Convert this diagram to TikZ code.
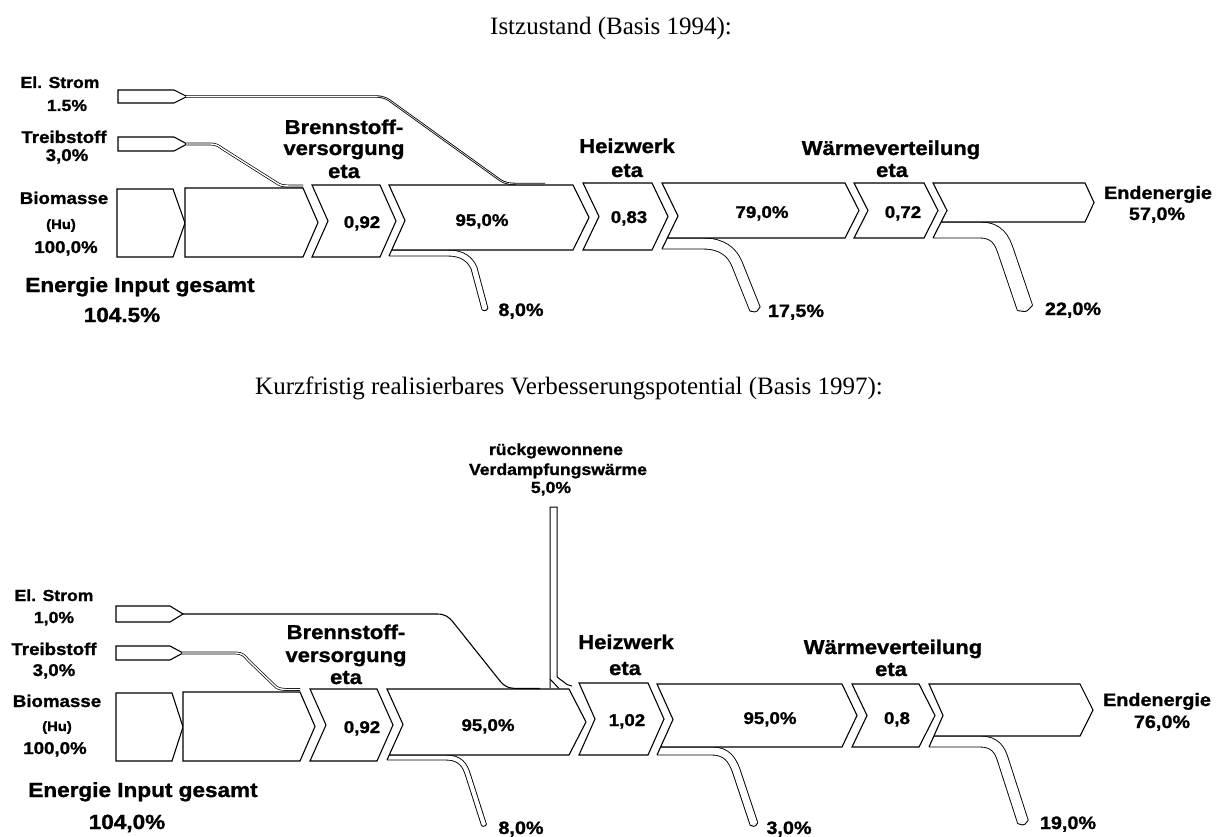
\documentclass[tikz,border=0pt]{standalone}
\usepackage{fontspec}
\setmainfont{Liberation Serif}
\newfontfamily\lab[FakeStretch=1.1, BoldFeatures={FakeBold=1.2}]{Liberation Sans}
\usetikzlibrary{calc}
\tikzset{
  box/.style={draw=black, fill=white, line width=1.1pt, line join=miter},
  flow/.style={draw=black, double=white, double distance=#1},
  tipv/.style={draw=black, fill=white, line width=0.9pt, rounded corners=1.6pt},
  lbl/.style={font=\lab\bfseries\fontsize{17}{19}\selectfont, inner sep=0pt, anchor=base},
  lss/.style={font=\lab\bfseries\fontsize{18}{20}\selectfont, inner sep=0pt, anchor=base},
  sml/.style={font=\lab\bfseries\fontsize{16}{18}\selectfont, inner sep=0pt, anchor=base},
  hu/.style={font=\lab\bfseries\fontsize{13.5}{15}\selectfont, inner sep=0pt, anchor=base},
  hdr/.style={font=\lab\bfseries\fontsize{20}{22}\selectfont, inner sep=0pt, anchor=base},
  big/.style={font=\lab\bfseries\fontsize{20.5}{23}\selectfont, inner sep=0pt, anchor=base},
  ttl/.style={font=\fontsize{25}{28}\selectfont, inner sep=0pt, anchor=base},
}
\begin{document}
\begin{tikzpicture}[x=1pt,y=-1pt]
\useasboundingbox (0,0) rectangle (1221,837);

%%%%%%%%%%%%%%%%%%%%%%%%%%%%%%%% TOP
\node[ttl] (t1) at (611,35) {Istzustand (Basis 1994):};

% loss bands (top)
\begin{scope}
 \clip (389,256) -- (405,220.5) -- (389,185) -- (1221,185) -- (1221,837) -- (389,837) -- cycle;
 \draw[flow=5.1pt, line width=0.9pt] (380,253) -- (448,253) .. controls (462,253) and (470,259) .. (474,268) -- (485,309);
\end{scope}
\draw[tipv] ($(485,309)!3pt!90:(474,268)$) -- ($(485,309)!-2.5pt!(474,268)$) -- ($(485,309)!3pt!-90:(474,268)$);
\begin{scope}
 \clip (662,249) -- (678,216) -- (662,183) -- (1221,183) -- (1221,837) -- (662,837) -- cycle;
 \draw[flow=10.1pt, line width=0.9pt] (655,243.5) -- (703,243.5) .. controls (722,243.5) and (732,252) .. (737,264) -- (755,309);
\end{scope}
\draw[tipv] ($(755,309)!5.5pt!90:(737,264)$) -- ($(755,309)!-3.5pt!(737,264)$) -- ($(755,309)!5.5pt!-90:(737,264)$);
\begin{scope}
 \clip (933,238) -- (947,210.5) -- (933,183) -- (1221,183) -- (1221,837) -- (933,837) -- cycle;
 \draw[flow=15.1pt, line width=0.9pt] (925,230) -- (980,230) .. controls (997,230) and (1002,240) .. (1006,252) -- (1025,308);
\end{scope}
\draw[tipv] ($(1025,308)!8pt!90:(1006,252)$) -- ($(1025,308)!-4pt!(1006,252)$) -- ($(1025,308)!8pt!-90:(1006,252)$);

% boxes (top)
\draw[box] (117,189) -- (173,189) -- (185,223) -- (173,257) -- (117,257) -- cycle;
\draw[box] (185,188) -- (303,188) -- (318,222.5) -- (303,257) -- (185,257) -- cycle;
\draw[box] (312,185) -- (380,185) -- (396,221) -- (380,257) -- (312,257) -- (328,221) -- cycle;
\draw[box] (391.7,250) -- (573,250) -- (589,217.5) -- (573,185) -- (389,185) -- (405,220.5) -- (389,256);
\draw[box] (583,183) -- (652,183) -- (668,216.5) -- (652,250) -- (583,250) -- (599,216.5) -- cycle;
\draw[box] (667.3,238) -- (845,238) -- (859,210.5) -- (845,183) -- (662,183) -- (678,216) -- (662,249);
\draw[box] (854,183) -- (924,183) -- (938,210.5) -- (924,238) -- (854,238) -- (868,210.5) -- cycle;
\draw[box] (941.1,222) -- (1085,222) -- (1094,202.5) -- (1085,183) -- (933,183) -- (947,210.5) -- (933,238);

% inputs (top)
\draw[box] (118,90) -- (174,90) -- (187,96.5) -- (174,103) -- (118,103) -- cycle;
\draw[box] (118,137) -- (174,137) -- (187,144) -- (174,151) -- (118,151) -- cycle;
\draw[flow=0.6pt, line width=0.85pt] (186,96.5) -- (376,96.5) .. controls (384,96.5) and (388,99) .. (393,103) -- (500,180) .. controls (505,183.5) and (510,184) .. (520,184) -- (545,184);
\draw[flow=1.4pt, line width=0.7pt] (186,144) -- (211,144) .. controls (216,144) and (219,146) .. (223,149) -- (276,182.5) .. controls (280,185.5) and (283,186) .. (290,186) -- (303,186);

% texts (top)
\node[sml] (elT) at (60,88) {El. Strom};
\node[sml] (elTp) at (67,111) {1.5\%};
\node[lbl] (trT) at (64,143) {Treibstoff};
\node[lbl] (trTp) at (67,161) {3,0\%};
\node[lbl] (bioT) at (64,204) {Biomasse};
\node[hu] (huT) at (61,229) {(Hu)};
\node[lbl] (bioTp) at (66,253) {100,0\%};
\node[big] (enT) at (140,292) {Energie Input gesamt};
\node[big] (enTp) at (122,322) {104.5\%};
\node[hdr] (bT1) at (344,134) {Brennstoff-};
\node[hdr] (bT2) at (344,155) {versorgung};
\node[hdr] (bT3) at (344,178) {eta};
\node[hdr] (hT1) at (627,153) {Heizwerk};
\node[hdr] (hT2) at (627,177) {eta};
\node[hdr] (wT1) at (891,155) {Wärmeverteilung};
\node[hdr] (wT2) at (892,177) {eta};
\node[lbl] (eT1) at (362,228) {0,92};
\node[lbl] (pT1) at (482,226) {95,0\%};
\node[lbl] (eT2) at (629,223) {0,83};
\node[lbl] (pT2) at (762,218) {79,0\%};
\node[lbl] (eT3) at (903,218) {0,72};
\node[lss] (endT) at (1158,199) {Endenergie};
\node[lss] (endTp) at (1157,220) {57,0\%};
\node[lss] (lT1) at (521,316) {8,0\%};
\node[lss] (lT2) at (796,317) {17,5\%};
\node[lss] (lT3) at (1073,315) {22,0\%};

%%%%%%%%%%%%%%%%%%%%%%%%%%%%%%%% BOTTOM
\node[ttl] (t2) at (569,394) {Kurzfristig realisierbares Verbesserungspotential (Basis 1997):};

% loss bands (bottom)
\begin{scope}
 \clip (387,760) -- (403,724.5) -- (387,689) -- (1221,689) -- (1221,837) -- (387,837) -- cycle;
 \draw[flow=4.1pt, line width=0.9pt] (378,757.5) -- (446,757.5) .. controls (460,757.5) and (465,765) .. (468,775) -- (484,825);
\end{scope}
\draw[tipv] ($(484,825)!2.5pt!90:(468,775)$) -- ($(484,825)!-2pt!(468,775)$) -- ($(484,825)!2.5pt!-90:(468,775)$);
\begin{scope}
 \clip (657,755) -- (673,719.5) -- (657,684) -- (1221,684) -- (1221,837) -- (657,837) -- cycle;
 \draw[flow=7.1pt, line width=0.9pt] (650,751) -- (712,751) .. controls (727,751) and (732,760) .. (736,770) -- (754,824);
\end{scope}
\draw[tipv] ($(754,824)!4pt!90:(736,770)$) -- ($(754,824)!-3pt!(736,770)$) -- ($(754,824)!4pt!-90:(736,770)$);
\begin{scope}
 \clip (929,747) -- (943,715.5) -- (929,684) -- (1221,684) -- (1221,837) -- (929,837) -- cycle;
 \draw[flow=10.1pt, line width=0.9pt] (920,741.5) -- (980,741.5) .. controls (995,741.5) and (1000,750) .. (1003,760) -- (1023,822);
\end{scope}
\draw[tipv] ($(1023,822)!5.5pt!90:(1003,760)$) -- ($(1023,822)!-3.5pt!(1003,760)$) -- ($(1023,822)!5.5pt!-90:(1003,760)$);

% boxes (bottom)
\draw[box] (116,693) -- (172,693) -- (183,727) -- (172,761) -- (116,761) -- cycle;
\draw[box] (183,692) -- (300,692) -- (315,726.5) -- (300,761) -- (183,761) -- cycle;
\draw[box] (310,689) -- (377,689) -- (393,725) -- (377,761) -- (310,761) -- (326,725) -- cycle;
\draw[box] (389.3,755) -- (569,755) -- (586,722) -- (569,689) -- (387,689) -- (403,724.5) -- (387,760);
\draw[box] (579,683) -- (648,683) -- (664,719) -- (648,755) -- (579,755) -- (595,719) -- cycle;
\draw[box] (660.6,747) -- (842,747) -- (857,715.5) -- (842,684) -- (657,684) -- (673,719.5) -- (657,755);
\draw[box] (852,684) -- (919,684) -- (935,715.5) -- (919,747) -- (852,747) -- (867,715.5) -- cycle;
\draw[box] (933.9,736) -- (1080,736) -- (1093,710) -- (1080,684) -- (929,684) -- (943,715.5) -- (929,747);

% recovered heat stream
\draw[line width=1pt, line join=miter] (550,688) -- (550,679) -- (550,507) -- (557,507) -- (557,677) -- (567,684.5) -- (572,686);
\draw[line width=1pt] (550,679) -- (559,688.5);

% inputs (bottom)
\draw[box] (116,606) -- (170,606) -- (183,614) -- (170,622) -- (116,622) -- cycle;
\draw[box] (116,646) -- (170,646) -- (183,653) -- (170,660) -- (116,660) -- cycle;
\draw[line width=1.1pt] (183,614) -- (437,614) .. controls (445,614) and (449,617) .. (453,622) -- (500,681) .. controls (504,686) and (508,688.5) .. (518,688.5) -- (540,688.5);
\draw[flow=1.4pt, line width=0.7pt] (182,653) -- (236,653) .. controls (242,653) and (245,656) .. (248,660) -- (274,685) .. controls (277,688.5) and (280,689.5) .. (288,689.5) -- (300,689.5);

% texts (bottom)
\node[sml] (elB) at (54,601) {El. Strom};
\node[sml] (elBp) at (54,623) {1,0\%};
\node[lbl] (trB) at (54,655) {Treibstoff};
\node[lbl] (trBp) at (54,676) {3,0\%};
\node[lbl] (bioB) at (57,707) {Biomasse};
\node[hu] (huB) at (57,731) {(Hu)};
\node[lbl] (bioBp) at (55,754) {100,0\%};
\node[big] (enB) at (143,797) {Energie Input gesamt};
\node[big] (enBp) at (127,829) {104,0\%};
\node[hdr] (bB1) at (346,639) {Brennstoff-};
\node[hdr] (bB2) at (346,662) {versorgung};
\node[hdr] (bB3) at (346,684) {eta};
\node[hdr] (hB1) at (626,649) {Heizwerk};
\node[hdr] (hB2) at (625,675) {eta};
\node[hdr] (wB1) at (893,654) {Wärmeverteilung};
\node[hdr] (wB2) at (891,676) {eta};
\node[sml] (rB1) at (556,455) {rückgewonnene};
\node[sml] (rB2) at (558,475) {Verdampfungswärme};
\node[sml] (rB3) at (551,493) {5,0\%};
\node[lbl] (eB1) at (362,733) {0,92};
\node[lbl] (pB1) at (488,731) {95,0\%};
\node[lbl] (eB2) at (627,726) {1,02};
\node[lbl] (pB2) at (770,724) {95,0\%};
\node[lbl] (eB3) at (897,724) {0,8};
\node[lss] (endB) at (1157,706) {Endenergie};
\node[lss] (endBp) at (1162,728) {76,0\%};
\node[lss] (lB1) at (521,834) {8,0\%};
\node[lss] (lB2) at (789,834) {3,0\%};
\node[lss] (lB3) at (1068,829) {19,0\%};
\end{tikzpicture}
\end{document}
